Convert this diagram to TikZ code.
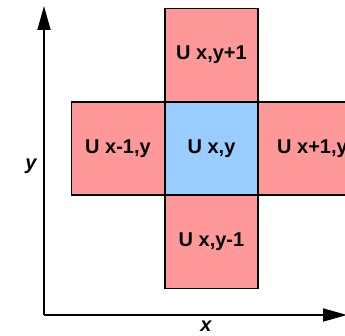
\documentclass[tikz,border=0pt]{standalone}
\usepackage{fontspec}
\setmainfont{Liberation Sans}
\usetikzlibrary{arrows.meta}
\definecolor{cellpink}{HTML}{FF9999}
\definecolor{cellblue}{HTML}{99CCFF}
\begin{document}
\begin{tikzpicture}[x=1pt,y=-1pt,
  cell/.style={draw=black, line width=1.6pt, minimum width=93pt, minimum height=93pt, inner sep=0pt, font=\bfseries\fontsize{20}{22}\selectfont},
  neighbour/.style={cell, fill=cellpink},
  centre/.style={cell, fill=cellblue},
  axis/.style={line width=1.6pt, -{Triangle[length=24pt,width=13pt]}},
  axislabel/.style={font=\bfseries\itshape\fontsize{20}{22}\selectfont}]
\useasboundingbox (0,0) rectangle (345,336);
\clip (0,0) rectangle (345,336);
\coordinate (o) at (44,315);
\coordinate (ytip) at (44,6);
\coordinate (xtip) at (347,315);
\draw[axis] (o) -- (ytip);
\draw[axis] (o) -- (xtip);
\node[neighbour] (top) at (211.5,55) {U x,y+1};
\node[neighbour] (bottom) at (211.5,242) {U x,y-1};
\node[neighbour] (left) at (118,148.5) {U x-1,y};
\node[neighbour, minimum width=108pt] (right) at (312.5,148.5) {U x+1,y};
\node[centre] (mid) at (211.5,148.5) {U x,y};
\node[axislabel] (ylab) at (31,166) {y};
\node[axislabel] (xlab) at (206,326) {x};
\end{tikzpicture}
\end{document}
